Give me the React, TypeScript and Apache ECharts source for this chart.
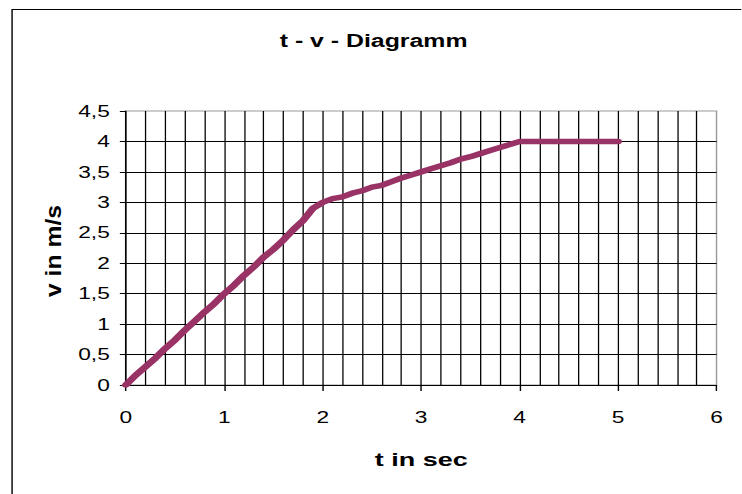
import React, { useEffect, useRef } from "react";
import * as echarts from "echarts";

// ---- data ----
const tValues = [
  0, 0.1, 0.2, 0.3, 0.4, 0.5, 0.6, 0.7, 0.8, 0.9,
  1.0, 1.1, 1.2, 1.3, 1.4, 1.5, 1.6, 1.7, 1.8, 1.9,
  2.0, 2.1, 2.2, 2.3, 2.4, 2.5, 2.6, 2.7, 2.8, 2.9,
  3.0, 3.1, 3.2, 3.3, 3.4, 3.5, 3.6, 3.7, 3.8, 3.9,
  4.0, 4.1, 4.2, 4.3, 4.4, 4.5, 4.6, 4.7, 4.8, 4.9, 5.0,
];
const vValues = [
  0, 0.16, 0.3, 0.44, 0.6, 0.74, 0.9, 1.05, 1.2, 1.34,
  1.5, 1.64, 1.8, 1.94, 2.1, 2.23, 2.38, 2.55, 2.7, 2.9,
  3.0, 3.06, 3.09, 3.15, 3.19, 3.25, 3.28, 3.34, 3.4, 3.45,
  3.5, 3.55, 3.6, 3.65, 3.71, 3.75, 3.8, 3.85, 3.9, 3.95,
  4, 4, 4, 4, 4, 4, 4, 4, 4, 4, 4,
];
const xTickLabels = ["0", "1", "2", "3", "4", "5", "6"];
const yTickLabels = ["0", "0,5", "1", "1,5", "2", "2,5", "3", "3,5", "4", "4,5"];

const chartTitle = "t - v - Diagramm";
const xName = "t in sec";
const yName = "v in m/s";

// the reference is horizontally stretched; reproduce by a CSS scaleX
const STRETCH = 1.42;
const FONT = '"Liberation Sans", Arial, sans-serif';

export default function App() {
  const ref = useRef<HTMLDivElement>(null);

  useEffect(() => {
    if (!ref.current) return;
    const chart = echarts.init(ref.current, null, { renderer: "svg" });
    const data = tValues.map((t, i) => [t, vValues[i]]);
    chart.setOption({
      animation: false,
      backgroundColor: "#fff",
      title: {
        text: chartTitle,
        left: 197,
        top: 32,
        padding: 0,
        textStyle: { fontSize: 17.5, fontWeight: "bold", fontFamily: FONT, color: "#000" },
      },
      grid: {
        left: 88.6,
        right: 17.4,
        top: 111,
        bottom: 109,
        show: true,
        borderColor: "#999",
        borderWidth: 1,
        backgroundColor: "transparent",
      },
      graphic: [
        {
          type: "rect",
          shape: { x: 8.5, y: 9.5, width: 800, height: 800 },
          style: { fill: "none", stroke: "#000", lineWidth: 1 },
          silent: true,
        },
        {
          type: "text",
          x: 38,
          y: 251,
          rotation: Math.PI / 2,
          scaleX: 1.3,
          scaleY: 0.8,
          style: {
            text: yName,
            fontSize: 19,
            fontWeight: "bold",
            fontFamily: FONT,
            fill: "#000",
            align: "center",
            verticalAlign: "middle",
            textAlign: "center",
            textVerticalAlign: "middle",
          },
          silent: true,
        },
      ],
      xAxis: {
        type: "value",
        min: 0,
        max: 6,
        interval: 1,
        name: xName,
        nameLocation: "middle",
        nameGap: 65,
        nameTextStyle: { fontSize: 19, fontWeight: "bold", fontFamily: FONT, color: "#000" },
        axisLine: { show: true, lineStyle: { color: "#000", width: 1 } },
        axisTick: { show: true, inside: false, length: 6, lineStyle: { color: "#000", width: 1 } },
        axisLabel: {
          margin: 24,
          fontSize: 16,
          fontFamily: FONT,
          color: "#000",
          formatter: (v: number) => xTickLabels[Math.round(v)] ?? "",
        },
        splitLine: { show: true, showMaxLine: false, lineStyle: { color: "#000", width: 0.9 } },
        minorTick: { show: false, splitNumber: 5 },
        minorSplitLine: { show: true, lineStyle: { color: "#000", width: 0.9 } },
      },
      yAxis: {
        type: "value",
        min: 0,
        max: 4.5,
        interval: 0.5,
        axisLine: { show: true, lineStyle: { color: "#000", width: 1 } },
        axisTick: { show: true, inside: false, length: 4.2, lineStyle: { color: "#000", width: 1 } },
        axisLabel: {
          margin: 11.3,
          fontSize: 16,
          fontFamily: FONT,
          color: "#000",
          formatter: (v: number) => yTickLabels[Math.round(v / 0.5)] ?? "",
        },
        splitLine: { show: true, showMaxLine: false, lineStyle: { color: "#000", width: 1 } },
      },
      series: [
        {
          type: "line",
          data,
          showSymbol: false,
          symbol: "none",
          smooth: false,
          lineStyle: { color: "#993366", width: 5.5, cap: "round", join: "round" },
        },
      ],
    });
    return () => chart.dispose();
  }, []);

  return (
    <div
      ref={ref}
      style={{
        position: "absolute",
        left: 0,
        top: 0,
        width: 522,
        height: 494,
        transform: `scaleX(${STRETCH})`,
        transformOrigin: "0 0",
        background: "#fff",
      }}
    />
  );
}
